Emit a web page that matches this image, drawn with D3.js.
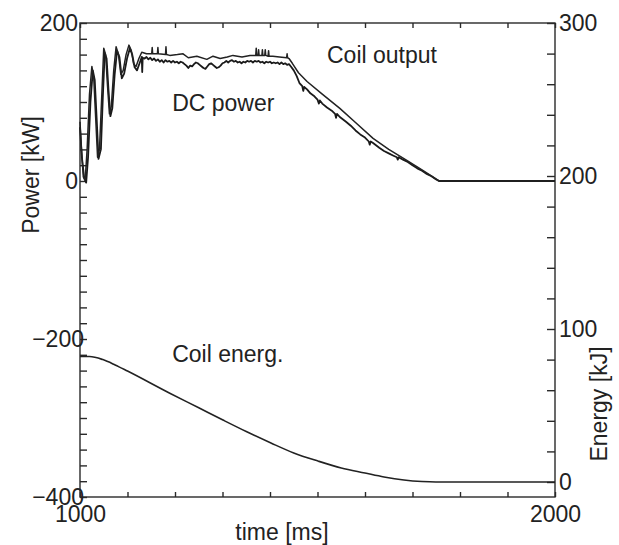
<!DOCTYPE html>
<html lang="en">
<head>
  <meta charset="UTF-8">
  <title>Coil power and energy</title>
  <script src="https://d3js.org/d3.v7.min.js"></script>
  <style>
    body { margin: 0; background: #fff; }
    svg { display: block; }
    text { font-family: "Liberation Sans", Arial, Helvetica, sans-serif; fill: #222; }
  </style>
</head>
<body>
  <svg width="619" height="545"></svg>

  <script>
    // Coil output power [kW] vs time [ms]
    const coilTime = [1000, 1003, 1007, 1011, 1015, 1020, 1025, 1029, 1033, 1037, 1041, 1046, 1050, 1054, 1058, 1062,
      1066, 1071, 1076, 1081, 1086, 1091, 1097, 1103, 1108, 1113, 1118, 1124, 1130, 1140, 1151, 1152, 1153,
      1163, 1164, 1165, 1180, 1181, 1182, 1189, 1205, 1217, 1228, 1246, 1267, 1280, 1295, 1310, 1322, 1341,
      1358, 1370, 1371, 1372, 1375, 1376, 1377, 1383, 1384, 1385, 1389, 1390, 1391, 1396, 1397, 1398, 1406,
      1420, 1435, 1436, 1437, 1440, 1447, 1460, 1478, 1510, 1547, 1580, 1617, 1650, 1688, 1720, 1756, 2000];
    const coilPower = [75, 40, 5, 2, 40, 110, 145, 130, 80, 30, 40, 110, 168, 160, 120, 85,
      95, 140, 170, 160, 135, 140, 160, 172, 165, 148, 145, 155, 163, 161, 161, 169, 161,
      161, 169, 161, 160, 170, 160, 159, 160, 161, 156, 158, 154, 158, 155, 157, 159, 157,
      159, 159, 168, 159, 159, 166, 159, 159, 166, 159, 159, 166, 159, 158, 165, 158, 158,
      157, 156, 161, 156, 155, 149, 137, 126, 110, 92, 74, 54, 40, 26, 14, 0, 0];

    // DC power [kW] vs time [ms]
    const dcTime = [1000, 1004, 1009, 1013, 1017, 1022, 1027, 1031, 1035, 1039, 1044, 1048, 1052, 1056, 1060, 1064,
      1068, 1073, 1078, 1083, 1088, 1093, 1099, 1105, 1110, 1115, 1120, 1126, 1130, 1131, 1132, 1136, 1140,
      1144, 1148, 1152, 1156, 1160, 1164, 1168, 1172, 1176, 1180, 1184, 1188, 1192, 1196, 1200, 1204, 1208,
      1212, 1216, 1220, 1224, 1228, 1232, 1236, 1240, 1244, 1248, 1252, 1256, 1260, 1264, 1268, 1272, 1276,
      1280, 1284, 1288, 1292, 1296, 1300, 1304, 1308, 1312, 1316, 1320, 1324, 1328, 1332, 1336, 1340, 1344,
      1348, 1352, 1356, 1360, 1364, 1368, 1372, 1376, 1380, 1384, 1388, 1392, 1396, 1400, 1404, 1408, 1412,
      1416, 1420, 1424, 1428, 1432, 1436, 1440, 1444, 1450, 1456, 1462, 1468, 1470, 1472, 1478, 1485, 1492,
      1500, 1503, 1505, 1510, 1520, 1530, 1537, 1539, 1541, 1547, 1560, 1570, 1580, 1590, 1600, 1608, 1610,
      1612, 1617, 1630, 1640, 1650, 1660, 1667, 1669, 1671, 1680, 1690, 1700, 1710, 1720, 1730, 1740, 1750,
      1756, 2000];
    const dcPower = [68, 30, 3, -2, 30, 100, 140, 128, 80, 28, 40, 105, 162, 155, 115, 82,
      92, 135, 165, 157, 130, 136, 155, 168, 160, 144, 140, 150, 157, 138, 156, 155, 157,
      154, 156, 153, 155, 152, 154, 151, 153, 150, 153, 151, 152, 150, 152, 150, 151, 149,
      151, 150, 148, 146, 143, 146, 145, 148, 150, 149, 147, 145, 143, 142, 145, 148, 149,
      147, 145, 143, 144, 146, 149, 150, 152, 150, 152, 153, 151, 152, 150, 151, 149, 151,
      150, 152, 151, 152, 150, 152, 151, 152, 150, 151, 149, 151, 150, 151, 149, 150, 149,
      150, 148, 150, 148, 149, 147, 148, 145, 140, 133, 124, 120, 114, 119, 116, 111, 108,
      103, 98, 102, 98, 93, 89, 85, 80, 85, 81, 75, 70, 64, 59, 55, 50, 46,
      50, 48, 42, 38, 35, 32, 30, 27, 30, 27, 24, 20, 16, 13, 9, 6, 2,
      0, 0];

    // Coil energy [kJ] vs time [ms]
    const energyTime = [1000, 1020, 1048, 1074, 1100, 1189, 1250, 1301, 1350, 1402, 1450, 1501, 1550, 1600,
      1640, 1682, 1720, 1749, 2000];
    const energyValue = [82, 82, 80, 76.5, 72.5, 58, 48.5, 40.5, 33, 25.5, 19, 13.7, 9.2, 5.9,
      3.3, 1.3, 0.3, 0, 0];

    const powerLabels = [-400, -200, 0, 200];
    const energyLabels = [0, 100, 200, 300];
    const timeLabels = [1000, 2000];

    const svg = d3.select("svg");
    const mLeft = 80, mRight = 555, mTop = 23, mBottom = 497;

    const x = d3.scaleLinear().domain([1000, 2000]).range([mLeft, mRight]);
    const yP = d3.scaleLinear().domain([-400, 200]).range([mBottom, mTop]);
    const yE = d3.scaleLinear().domain([-9.8, 300]).range([mBottom, mTop]);

    const fmt = d3.format("");

    // frame
    svg.append("rect")
      .attr("x", mLeft).attr("y", mTop)
      .attr("width", mRight - mLeft).attr("height", mBottom - mTop)
      .attr("fill", "none").attr("stroke", "#2a2a2a").attr("stroke-width", 1.4);

    // left axis (power), ticks point inward
    const gL = svg.append("g").attr("transform", `translate(${mLeft},0)`)
      .call(d3.axisLeft(yP).tickValues(d3.range(-400, 201, 20)).tickSize(-7).tickPadding(2)
        .tickFormat(d => powerLabels.includes(d) ? fmt(d) : ""));
    gL.selectAll(".tick text").attr("dx", d => d < 0 ? 6 : 0);

    // right axis (energy)
    const gR = svg.append("g").attr("transform", `translate(${mRight},0)`)
      .call(d3.axisRight(yE).tickValues(d3.range(0, 301, 20)).tickSize(-8).tickPadding(4)
        .tickFormat(d => energyLabels.includes(d) ? fmt(d) : ""));

    // bottom and top axes (time)
    const gB = svg.append("g").attr("transform", `translate(0,${mBottom})`)
      .call(d3.axisBottom(x).tickValues(d3.range(1000, 2001, 100)).tickSize(-5).tickPadding(9)
        .tickFormat(d => timeLabels.includes(d) ? fmt(d) : ""));
    const gT = svg.append("g").attr("transform", `translate(0,${mTop})`)
      .call(d3.axisTop(x).tickValues(d3.range(1000, 2001, 100)).tickSize(-5).tickFormat(""));

    [gL, gR, gB, gT].forEach(g => {
      g.select(".domain").remove();
      g.selectAll(".tick line").attr("stroke", "#2a2a2a").attr("stroke-width", 1.4);
      g.selectAll(".tick text").attr("font-size", 23).attr("fill", "#222")
        .style("font-family", "'Liberation Sans', Arial, sans-serif");
    });

    // traces
    const powerLine = d3.line().x(d => x(d[0])).y(d => yP(d[1]));
    const energyLine = d3.line().x(d => x(d[0])).y(d => yE(d[1])).curve(d3.curveMonotoneX);

    svg.append("path")
      .datum(dcTime.map((t, i) => [t, dcPower[i]]))
      .attr("d", powerLine)
      .attr("fill", "none").attr("stroke", "#1a1a1a").attr("stroke-width", 1.8)
      .attr("stroke-linejoin", "round");

    svg.append("path")
      .datum(coilTime.map((t, i) => [t, coilPower[i]]))
      .attr("d", powerLine)
      .attr("fill", "none").attr("stroke", "#222").attr("stroke-width", 1.5)
      .attr("stroke-linejoin", "round");

    svg.append("path")
      .datum(energyTime.map((t, i) => [t, energyValue[i]]))
      .attr("d", energyLine)
      .attr("fill", "none").attr("stroke", "#222").attr("stroke-width", 1.6);

    // trace labels
    svg.append("text").attr("x", x(1520)).attr("y", yP(150)).text("Coil output").attr("font-size", 23);
    svg.append("text").attr("x", x(1194)).attr("y", yP(89)).text("DC power").attr("font-size", 23);
    svg.append("text").attr("x", x(1194)).attr("y", yE(78.5)).text("Coil energ.").attr("font-size", 23);

    // axis titles
    svg.append("text")
      .attr("transform", `translate(39,${(mTop + mBottom) / 2 - 85}) rotate(-90)`)
      .attr("text-anchor", "middle").attr("font-size", 23).text("Power [kW]");
    svg.append("text")
      .attr("transform", `translate(607,404) rotate(-90)`)
      .attr("text-anchor", "middle").attr("font-size", 23).text("Energy [kJ]");
    svg.append("text")
      .attr("x", 282).attr("y", 540)
      .attr("text-anchor", "middle").attr("font-size", 23).text("time [ms]");
  </script>
</body>
</html>
